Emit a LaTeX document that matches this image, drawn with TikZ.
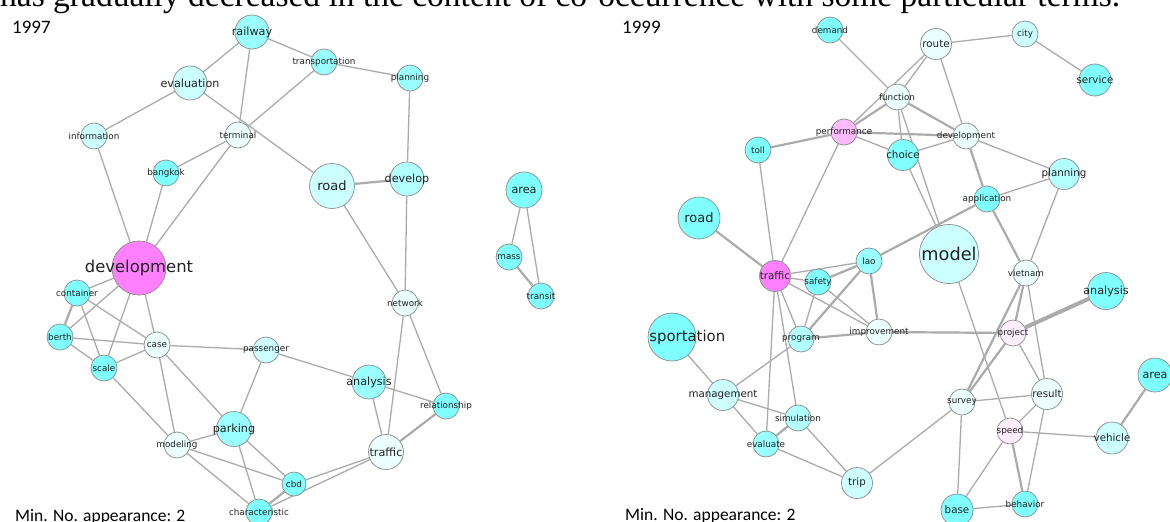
\documentclass[tikz,border=0pt]{standalone}
\usepackage{fontspec}
\newfontfamily\dv{DejaVu Sans}
\newfontfamily\carl{Carlito}
\newfontfamily\tms{Liberation Serif}
\definecolor{cyA}{HTML}{80FFFF}
\definecolor{cyB}{HTML}{99FFFF}
\definecolor{cyC}{HTML}{B3FFFF}
\definecolor{cyD}{HTML}{CCFFFF}
\definecolor{cyE}{HTML}{EBFFFF}
\definecolor{mgA}{HTML}{FF80FF}
\definecolor{mgB}{HTML}{FFBBFF}
\definecolor{mgC}{HTML}{FFEEFF}
\definecolor{ndline}{HTML}{8C8C8C}
\definecolor{edline}{HTML}{ABABAB}
\definecolor{lbl}{HTML}{222222}
\pgfdeclarelayer{bg}
\pgfsetlayers{bg,main}
\tikzset{
  nd/.style={circle, draw=ndline, line width=0.7pt, inner sep=0pt, minimum size=#1},
  nd/.default=26pt,
  sm/.style={font=\dv\fontsize{8.8}{9}\selectfont, text=lbl, inner sep=0pt},
  md/.style={font=\dv\fontsize{11.2}{12}\selectfont, text=lbl, inner sep=0pt},
  mdr/.style={font=\dv\fontsize{10.3}{11}\selectfont, text=lbl, inner sep=0pt},
  ed/.style={draw=edline, line width=1.3pt},
  edt/.style={draw=edline, line width=2.2pt},
  edh/.style={draw=edline, line width=4pt},
}
\begin{document}
\begin{tikzpicture}[x=1pt,y=-1pt]
\useasboundingbox (0,0) rectangle (1170,522);
\clip (0,0) rectangle (1170,522);
\begin{pgfonlayer}{bg}
\fill[white] (0,0) rectangle (1170,522);
\end{pgfonlayer}
% header text (cut off)
\node[anchor=base west, inner sep=0pt, font=\tms\fontsize{33.5}{34}\selectfont] (hdr) at (0,6) {has gradually decreased in the content of co-occurrence with some particular terms.};
\node[anchor=base west, inner sep=0pt, font=\carl\fontsize{19}{19}\selectfont] (y97) at (12,33) {1997};
\node[anchor=base west, inner sep=0pt, font=\carl\fontsize{19}{19}\selectfont] (y99) at (622,33) {1999};
\node[anchor=base west, inner sep=0pt, font=\carl\fontsize{17.5}{17.5}\selectfont] (min97) at (15,521) {Min. No. appearance: 2};
\node[anchor=base west, inner sep=0pt, font=\carl\fontsize{17.5}{17.5}\selectfont] (min99) at (625,520) {Min. No. appearance: 2};

% ================= 1997 =================
\node[nd=34pt, fill=cyB, label={[md]center:railway}] (railway) at (252,32) {};
\node[nd=34pt, fill=cyD, label={[md]center:evaluation}] (evaluation) at (190,83) {};
\node[nd, fill=cyD, label={[sm]center:information}] (information) at (94,136) {};
\node[nd, fill=cyE, label={[sm]center:terminal}] (terminal) at (238,135) {};
\node[nd, fill=cyA, label={[sm]center:bangkok}] (bangkok) at (166,173) {};
\node[nd, fill=cyB, label={[sm]center:transportation}] (ltransp) at (324,62) {};
\node[nd, fill=cyB, label={[sm]center:planning}] (lplanning) at (410,78) {};
\node[nd=45pt, fill=cyD, label={[font=\dv\fontsize{13}{14}\selectfont, text=lbl, inner sep=0pt]center:road}] (lroad) at (332,186) {};
\node[nd=34pt, fill=cyC, label={[md]center:develop}] (develop) at (407,179) {};
\node[nd=36pt, fill=cyA, label={[md]center:area}] (larea) at (524,190) {};
\node[nd, fill=cyA, label={[sm]center:mass}] (mass) at (509,257) {};
\node[nd, fill=cyA, label={[sm]center:transit}] (transit) at (541,296) {};
\node[nd, fill=cyE, label={[sm]center:network}] (network) at (405,303) {};
\node[nd=34pt, fill=cyB, label={[md]center:analysis}] (lanalysis) at (369,382) {};
\node[nd, fill=cyA, label={[sm]center:relationship}] (relationship) at (446,406) {};
\node[nd=35pt, fill=cyE, label={[md]center:traffic}] (ltraffic) at (386,452) {};
\node[nd=24pt, fill=cyA, label={[sm]center:cbd}] (cbd) at (294,484) {};
\node[nd=54pt, fill=mgA, label={[font=\dv\fontsize{16.4}{17}\selectfont, text=lbl, inner sep=0pt]center:development}] (ldev) at (139,268) {};
\node[nd, fill=cyA, label={[sm]center:container}] (container) at (77,293) {};
\node[nd, fill=cyA, label={[sm]center:berth}] (berth) at (60,337) {};
\node[nd, fill=cyA, label={[sm]center:scale}] (scale) at (104,368) {};
\node[nd, fill=cyE, label={[sm]center:case}] (case) at (157,345) {};
\node[nd, fill=cyD, label={[sm]center:passenger}] (passenger) at (266,350) {};
\node[nd=35pt, fill=cyB, label={[md]center:parking}] (parking) at (234,429) {};
\node[nd, fill=cyE, label={[sm]center:modeling}] (modeling) at (177,445) {};
\node[nd, fill=cyA, label={[sm]center:characteristic}] (characteristic) at (259,512) {};

\begin{pgfonlayer}{bg}
\draw[ed] (railway) -- (evaluation);
\draw[ed] (railway) -- (terminal);
\draw[ed] (railway) -- (ltransp);
\draw[ed] (evaluation) -- (information);
\draw[ed] (evaluation) -- (lroad);
\draw[ed] (terminal) -- (ltransp);
\draw[ed] (ltransp) -- (lplanning);
\draw[ed] (lplanning) -- (develop);
\draw[edt] (lroad) -- (develop);
\draw[ed] (lroad) -- (network);
\draw[ed] (develop) -- (network);
\draw[ed] (terminal) -- (bangkok);
\draw[ed] (terminal) -- (ldev);
\draw[ed] (information) -- (ldev);
\draw[ed] (bangkok) -- (ldev);
\draw[ed] (larea) -- (mass);
\draw[ed] (larea) -- (transit);
\draw[edt] (mass) -- (transit);
\draw[ed] (network) -- (ltraffic);
\draw[ed] (network) -- (relationship);
\draw[ed] (passenger) -- (lanalysis);
\draw[ed] (lanalysis) -- (relationship);
\draw[ed] (lanalysis) -- (ltraffic);
\draw[edt] (relationship) -- (ltraffic);
\draw[ed] (ltraffic) -- (cbd);
\draw[ed] (ltraffic) -- (characteristic);
\draw[ed] (ldev) -- (container);
\draw[ed] (ldev) -- (berth);
\draw[ed] (ldev) -- (scale);
\draw[ed] (ldev) -- (case);
\draw[edt] (container) -- (berth);
\draw[ed] (container) -- (scale);
\draw[ed] (container) -- (case);
\draw[ed] (berth) -- (case);
\draw[ed] (berth) -- (scale);
\draw[ed] (scale) -- (case);
\draw[ed] (scale) -- (modeling);
\draw[ed] (case) -- (passenger);
\draw[ed] (case) -- (modeling);
\draw[ed] (case) -- (parking);
\draw[ed] (passenger) -- (parking);
\draw[ed] (parking) -- (modeling);
\draw[ed] (parking) -- (cbd);
\draw[ed] (parking) -- (characteristic);
\draw[ed] (modeling) -- (cbd);
\draw[ed] (modeling) -- (characteristic);
\draw[edt] (cbd) -- (characteristic);
\end{pgfonlayer}

% ================= 1999 =================
\node[nd, fill=cyA, label={[sm]center:demand}] (demand) at (830,30) {};
\node[nd=31pt, fill=cyE, label={[mdr]center:route}] (route) at (936,44) {};
\node[nd, fill=cyD, label={[sm]center:city}] (city) at (1025,34) {};
\node[nd=32pt, fill=cyA, label={[mdr]center:service}] (service) at (1095,80) {};
\node[nd, fill=cyE, label={[sm]center:function}] (function) at (897,97) {};
\node[nd, fill=cyE, label={[sm]center:development}] (rdev) at (966,136) {};
\node[nd=31pt, fill=cyA, label={[mdr]center:choice}] (choice) at (903,155) {};
\node[nd=31pt, fill=cyC, label={[mdr]center:planning}] (rplanning) at (1064,174) {};
\node[nd, fill=cyA, label={[sm]center:application}] (application) at (987,199) {};
\node[nd=59pt, fill=cyD, label={[font=\dv\fontsize{17.7}{18}\selectfont, text=lbl, inner sep=0pt]center:model}] (model) at (949,254) {};
\node[nd, fill=mgB, label={[sm]center:performance}] (performance) at (844,132) {};
\node[nd, fill=cyA, label={[sm]center:toll}] (toll) at (758,150) {};
\node[nd=42pt, fill=cyA, label={[font=\dv\fontsize{13}{14}\selectfont, text=lbl, inner sep=0pt]center:road}] (rroad) at (699,218) {};
\node[nd=31pt, fill=mgA, label={[mdr]center:traffic}] (rtraffic) at (775,276) {};
\node[nd, fill=cyA, label={[sm]center:safety}] (safety) at (818,282) {};
\node[nd, fill=cyB, label={[sm]center:lao}] (lao) at (869,261) {};
\node[nd, fill=cyC, label={[sm]center:program}] (program) at (801,339) {};
\node[nd, fill=cyE, label={[sm]center:improvement}] (improvement) at (879,332) {};
\node[nd=48pt, fill=cyA] (rtransp) at (672,337) {};
\begin{scope}
\clip (648,300) rectangle (760,370);
\node[font=\dv\fontsize{14.9}{15}\selectfont, text=lbl, inner sep=0pt] (rtransplbl) at (rtransp.center) {transportation};
\end{scope}
\node[nd=31pt, fill=cyD, label={[mdr]center:management}] (management) at (723,395) {};
\node[nd, fill=cyC, label={[sm]center:simulation}] (simulation) at (798,418) {};
\node[nd, fill=cyB, label={[sm]center:evaluate}] (evaluate) at (766,444) {};
\node[nd=31pt, fill=cyD, label={[mdr]center:trip}] (trip) at (857,483) {};
\node[nd, fill=cyE, label={[sm]center:vietnam}] (vietnam) at (1026,273) {};
\node[nd=37pt, fill=cyA, label={[md]center:analysis}] (ranalysis) at (1106,291) {};
\node[nd, fill=mgC, label={[sm]center:project}] (project) at (1013,333) {};
\node[nd=34pt, fill=cyA, label={[md]center:area}] (rarea) at (1155,375) {};
\node[nd=31pt, fill=cyE, label={[mdr]center:result}] (result) at (1047,394) {};
\node[nd, fill=cyE, label={[sm]center:survey}] (survey) at (962,402) {};
\node[nd, fill=mgC, label={[sm]center:speed}] (speed) at (1010,431) {};
\node[nd=32pt, fill=cyD, label={[mdr]center:vehicle}] (vehicle) at (1112,438) {};
\node[nd=32pt, fill=cyA, label={[mdr]center:base}] (base) at (957,510) {};
\node[nd, fill=cyA, label={[sm]center:behavior}] (behavior) at (1025,504) {};

\begin{pgfonlayer}{bg}
\draw[ed] (demand) -- (function);
\draw[ed] (route) -- (function);
\draw[ed] (route) -- (performance);
\draw[ed] (route) -- (rdev);
\draw[ed] (route) -- (city);
\draw[ed] (city) -- (service);
\draw[edt] (function) -- (performance);
\draw[edt] (function) -- (rdev);
\draw[ed] (function) -- (choice);
\draw[ed] (function) -- (model);
\draw[ed] (choice) -- (model);
\draw[edt] (performance) -- (rdev);
\draw[ed] (performance) -- (choice);
\draw[edt] (performance) -- (toll);
\draw[ed] (performance) -- (rtraffic);
\draw[ed] (rdev) -- (choice);
\draw[ed] (rdev) -- (rplanning);
\draw[edt] (rdev) -- (application);
\draw[edt] (application) -- (vietnam);
\draw[ed] (rplanning) -- (application);
\draw[ed] (rplanning) -- (vietnam);
\draw[edt] (application) -- (lao);
\draw[ed] (toll) -- (rtraffic);
\draw[edt] (rroad) -- (rtraffic);
\draw[ed] (rtraffic) -- (safety);
\draw[ed] (rtraffic) -- (lao);
\draw[ed] (rtraffic) -- (program);
\draw[ed] (rtraffic) -- (improvement);
\draw[ed] (rtraffic) -- (simulation);
\draw[ed] (rtraffic) -- (evaluate);
\draw[edt] (safety) -- (lao);
\draw[ed] (safety) -- (program);
\draw[ed] (safety) -- (improvement);
\draw[edt] (lao) -- (program);
\draw[edt] (lao) -- (improvement);
\draw[edt] (program) -- (improvement);
\draw[ed] (program) -- (management);
\draw[edt] (improvement) -- (project);
\draw[ed] (rtransp) -- (management);
\draw[ed] (management) -- (simulation);
\draw[ed] (management) -- (evaluate);
\draw[edt] (simulation) -- (evaluate);
\draw[ed] (simulation) -- (trip);
\draw[ed] (evaluate) -- (trip);
\draw[ed] (trip) -- (survey);
\draw[ed] (model) -- (speed);
\draw[edt] (vietnam) -- (project);
\draw[edt] (vietnam) -- (survey);
\draw[ed] (vietnam) -- (result);
\draw[edh] (project) -- (ranalysis);
\draw[edt] (project) -- (survey);
\draw[ed] (project) -- (result);
\draw[ed] (survey) -- (result);
\draw[ed] (survey) -- (base);
\draw[ed] (speed) -- (result);
\draw[ed] (speed) -- (vehicle);
\draw[ed] (speed) -- (base);
\draw[edt] (speed) -- (behavior);
\draw[ed] (result) -- (behavior);
\draw[ed] (base) -- (behavior);
\draw[edt] (rarea) -- (vehicle);
\end{pgfonlayer}
\end{tikzpicture}
\end{document}
